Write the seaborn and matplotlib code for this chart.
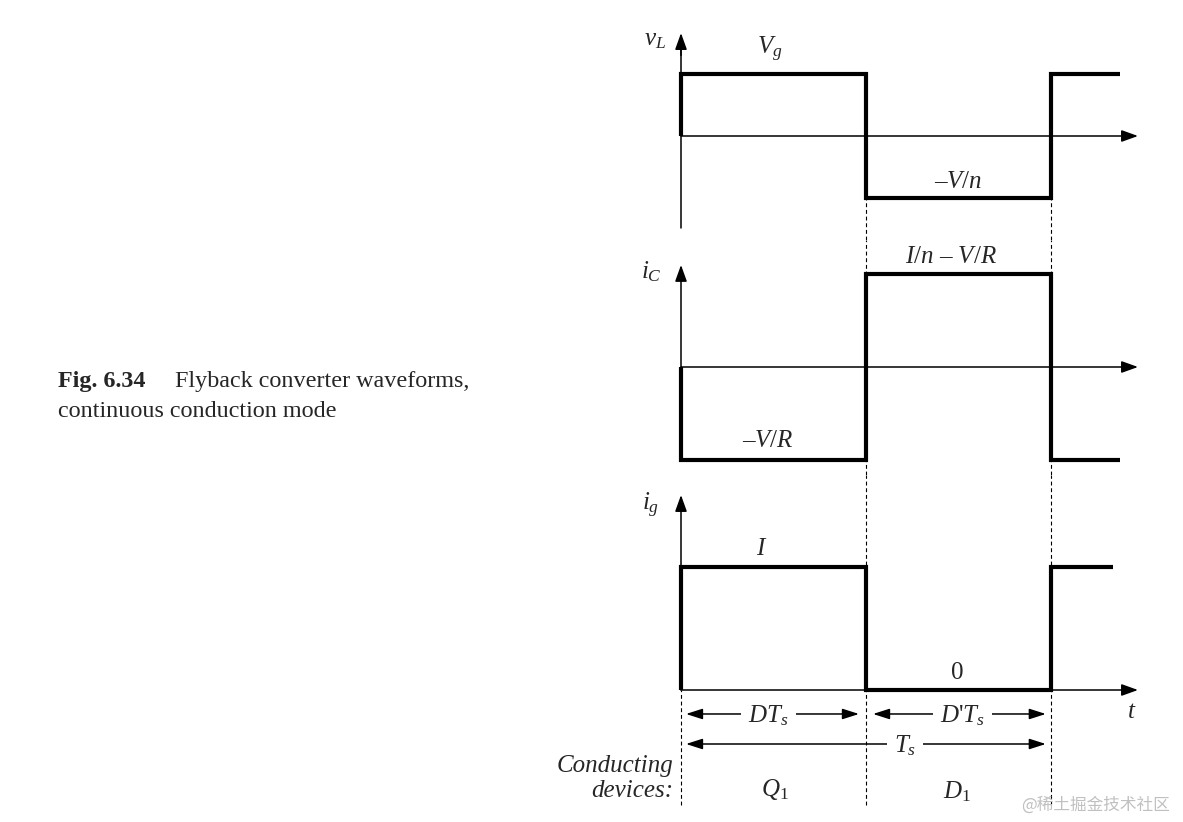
import numpy as np
import matplotlib
matplotlib.use("Agg")
import matplotlib.pyplot as plt
import seaborn as sns

# dữ liệu dạng sóng (thời gian tính theo đơn vị Ts, D = 0.5)
D = 0.5
t_vL = [0, 0, D, D, 1, 1, 1.186]
vL = [0, 1, 1, -1, -1, 1, 1]
t_iC = [0, 0, D, D, 1, 1, 1.186]
iC = [0, -1, -1, 1, 1, -1, -1]
t_ig = [0, 0, D, D, 1, 1, 1.168]
ig = [0, 1, 1, 0, 0, 1, 1]
t_axis_end = 1.235

sns.set_style("white")
plt.rcParams["font.family"] = ["Liberation Serif", "DejaVu Serif"]
plt.rcParams["mathtext.fontset"] = "custom"
plt.rcParams["mathtext.rm"] = "Liberation Serif"
plt.rcParams["mathtext.it"] = "Liberation Serif:italic"
plt.rcParams["mathtext.bf"] = "Liberation Serif:bold"

W, H = 1183, 822
fig = plt.figure(figsize=(W / 100, H / 100), dpi=100)

# vị trí các trục theo pixel: (trên, dưới, gốc 0, số pixel / đơn vị)
x0_px, ts_px = 681, 370
def make_ax(top, bottom, zero, unit):
    ax = fig.add_axes([0, 1 - bottom / H, 1, (bottom - top) / H])
    ax.set_xlim(-x0_px / ts_px, (W - x0_px) / ts_px)
    ax.set_ylim(-(bottom - zero) / unit, (zero - top) / unit)
    ax.set_axis_off()
    return ax

ax1 = make_ax(0, 240, 136, 62)
ax2 = make_ax(240, 475, 367, 93)
ax3 = make_ax(475, 822, 690, 123)

lw_wave = 3
lw_axis = 1.1
dash = (0, (3.5, 2.5))
arrow_axis = dict(arrowstyle="-|>,head_length=0.5,head_width=0.18", color="black",
                  lw=lw_axis, shrinkA=0, shrinkB=0, mutation_scale=20)
arrow_dim = dict(arrowstyle="<|-|>,head_length=0.5,head_width=0.16", color="black",
                 lw=lw_axis, shrinkA=0, shrinkB=0, mutation_scale=20)
fs = 18

# đường nét đứt
ax1.vlines([D, 1], ax1.get_ylim()[0], -1, colors="black", lw=0.8, linestyles=dash)
ax2.vlines([D, 1], *ax2.get_ylim(), colors="black", lw=0.8, linestyles=dash)
ax3.vlines([D, 1], -0.935, ax3.get_ylim()[1], colors="black", lw=0.8, linestyles=dash)
ax3.vlines([0], -0.935, 0, colors="black", lw=0.8, linestyles=dash)

# trục tọa độ
ax1.plot([0, 0], [-1.48, 1.4], color="black", lw=lw_axis)
ax1.annotate("", xy=(0, 1.66), xytext=(0, 1.3), arrowprops=arrow_axis)
ax1.annotate("", xy=(t_axis_end, 0), xytext=(0, 0), arrowprops=arrow_axis)
ax2.annotate("", xy=(0, 1.097), xytext=(0, 0), arrowprops=arrow_axis)
ax2.annotate("", xy=(t_axis_end, 0), xytext=(0, 0), arrowprops=arrow_axis)
ax3.annotate("", xy=(0, 1.585), xytext=(0, 0), arrowprops=arrow_axis)
ax3.annotate("", xy=(t_axis_end, 0), xytext=(0, 0), arrowprops=arrow_axis)

# dạng sóng
for ax, t, y in [(ax1, t_vL, vL), (ax2, t_iC, iC), (ax3, t_ig, ig)]:
    sns.lineplot(x=t, y=y, ax=ax, color="black", lw=lw_wave, sort=False,
                 estimator=None, solid_joinstyle="miter", solid_capstyle="butt")

# nhãn
ax1.text(-0.07, 1.55, r"$v_L$", fontsize=fs, ha="center", va="center")
ax1.text(0.24, 1.39, r"$V_g$", fontsize=fs, ha="center", va="center")
ax1.text(0.749, -0.74, "–" + r"$V/n$", fontsize=fs, ha="center", va="center")
ax2.text(-0.081, 1.02, r"$i_C$", fontsize=fs, ha="center", va="center")
ax2.text(0.73, 1.18, r"$I/n$" + " – " + r"$V/R$", fontsize=fs, ha="center", va="center")
ax2.text(0.235, -0.80, "–" + r"$V/R$", fontsize=fs, ha="center", va="center")
ax3.text(-0.081, 1.50, r"$i_g$", fontsize=fs, ha="center", va="center")
ax3.text(0.219, 1.15, r"$I$", fontsize=fs, ha="center", va="center")
ax3.text(0.746, 0.138, "0", fontsize=fs, ha="center", va="center")
ax3.text(1.219, -0.179, r"$t$", fontsize=fs, ha="center", va="center")

# mũi tên kích thước
ax3.annotate("", xy=(0.0135, -0.195), xytext=(0.481, -0.195), arrowprops=arrow_dim)
ax3.annotate("", xy=(0.519, -0.195), xytext=(0.986, -0.195), arrowprops=arrow_dim)
ax3.annotate("", xy=(0.0135, -0.439), xytext=(0.986, -0.439), arrowprops=arrow_dim)
box = dict(facecolor="white", edgecolor="none", pad=5)
ax3.text(0.237, -0.21, r"$DT_s$", fontsize=fs, ha="center", va="center", bbox=box)
ax3.text(0.762, -0.21, r"$D$'$T_s$", fontsize=fs, ha="center", va="center", bbox=box)
ax3.text(0.605, -0.455, r"$T_s$", fontsize=fs, ha="center", va="center", bbox=box)

ax3.text(-0.0216, -0.618, "Conducting", fontsize=fs, style="italic", ha="right", va="center")
ax3.text(-0.0216, -0.821, "devices:", fontsize=fs, style="italic", ha="right", va="center")
ax3.text(0.254, -0.813, r"$Q_1$", fontsize=fs, ha="center", va="center")
ax3.text(0.746, -0.829, r"$D_1$", fontsize=fs, ha="center", va="center")

# chú thích hình
cap = 17.4
fig.text(58 / W, 1 - 381 / H, "Fig. 6.34", fontsize=cap, fontweight="bold", ha="left", va="center")
fig.text(175 / W, 1 - 381 / H, "Flyback converter waveforms,", fontsize=cap, ha="left", va="center")
fig.text(58 / W, 1 - 411 / H, "continuous conduction mode", fontsize=cap, ha="left", va="center")

fig.text(1095 / W, 1 - 805 / H, "@稀土掘金技术社区", fontsize=12, color="#c0c0c0",
         ha="center", va="center", family=["Noto Sans CJK SC", "DejaVu Sans"])

fig.savefig("out.png", dpi=100)
